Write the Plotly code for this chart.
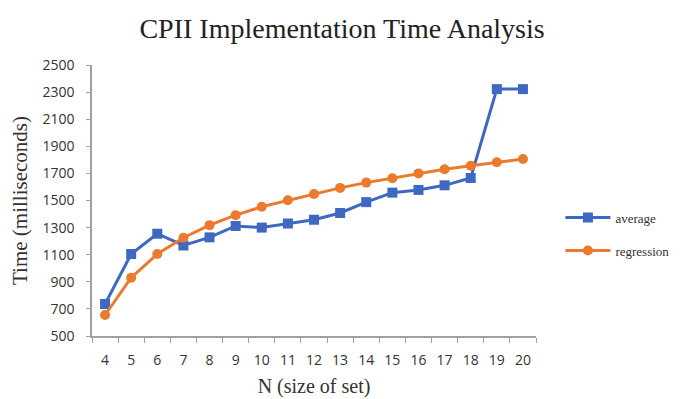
import plotly.graph_objects as go

n_values = ["4", "5", "6", "7", "8", "9", "10", "11", "12", "13", "14", "15", "16", "17", "18", "19", "20"]
average_ms = [736, 1105, 1255, 1168, 1228, 1312, 1300, 1330, 1358, 1408, 1488, 1558, 1578, 1612, 1666, 2322, 2322]
regression_ms = [655, 930, 1105, 1225, 1318, 1392, 1454, 1502, 1548, 1593, 1632, 1664, 1700, 1730, 1756, 1782, 1806]

BLUE = "#3F68C0"
ORANGE = "#EC7A2E"
serif = "Liberation Serif, Times New Roman, serif"
sans = "Open Sans, Liberation Sans, sans-serif"

fig = go.Figure()
fig.add_trace(go.Scatter(
    x=n_values, y=average_ms, name="average", mode="lines+markers",
    legendgroup="avg",
    line=dict(color=BLUE, width=3),
    marker=dict(symbol="square", size=10, color=BLUE),
))
fig.add_trace(go.Scatter(
    x=n_values, y=regression_ms, name="regression", mode="lines+markers",
    legendgroup="reg",
    line=dict(color=ORANGE, width=3),
    marker=dict(symbol="circle", size=10, color=ORANGE),
))

fig.update_layout(
    width=691, height=399,
    margin=dict(l=92, r=155, t=65, b=63),
    paper_bgcolor="white", plot_bgcolor="white",
    title=dict(text="CPII Implementation Time Analysis", x=0.495, xanchor="center",
               y=0.93, yanchor="middle",
               font=dict(family=serif, size=28, color="#222222")),
    legend=dict(x=1.055, y=0.376, xanchor="left", yanchor="middle",
                font=dict(family=serif, size=13, color="#333333"),
                tracegroupgap=13, itemwidth=45),
    showlegend=True,
)
fig.update_xaxes(
    type="category", tickson="boundaries", range=[-0.5, 16.5], automargin=False,
    ticks="outside", ticklen=5, ticklabelstandoff=10,
    tickcolor="#a0a0a0", showline=True, linecolor="#a0a0a0", linewidth=1.5,
    showgrid=False, tickfont=dict(family=sans, size=14, color="#333333"),
    title=dict(text="N (size of set)", font=dict(family=serif, size=20, color="#333333"),
               standoff=11),
)
fig.update_yaxes(
    range=[500, 2500], dtick=200, tick0=500, ticks="outside", ticklen=4,
    ticklabelstandoff=9, automargin=False,
    tickcolor="#a0a0a0", showline=True, linecolor="#a0a0a0", linewidth=1.5,
    showgrid=False, zeroline=False,
    tickfont=dict(family=sans, size=14, color="#333333"),
    title=dict(text="Time (milliseconds)", font=dict(family=serif, size=21, color="#333333"),
               standoff=9),
)

fig.write_html("out.html")
